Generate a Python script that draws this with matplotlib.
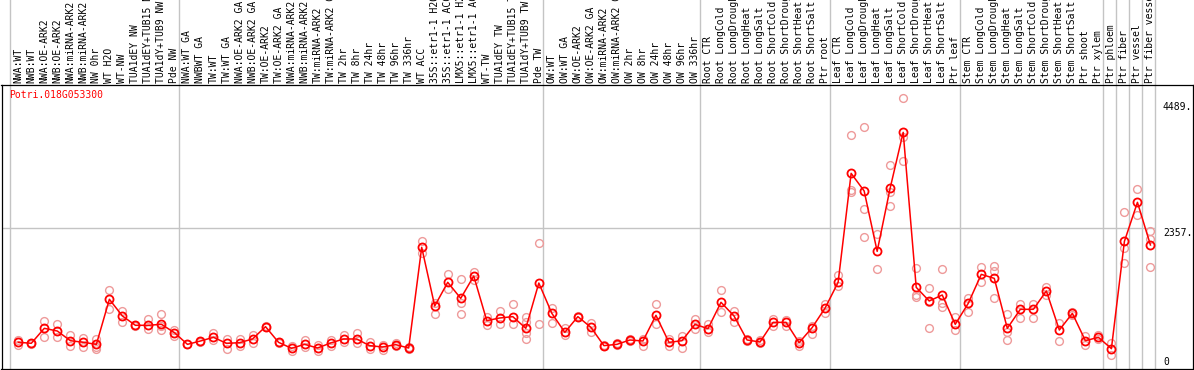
import numpy as np
import matplotlib.pyplot as plt

gene = "Potri.018G053300"

labels = [
    # NW
    "NWA:WT", "NWB:WT", "NWA:OE-ARK2", "NWB:OE-ARK2", "NWA:miRNA-ARK2",
    "NWB:miRNA-ARK2", "NW 0hr", "WT H2O", "WT-NW", "TUA1dEY NW",
    "TUA1dEY+TUB15 NW", "TUA1dY+TUB9 NW", "Pde NW",
    # TW
    "NWA:WT GA", "NWBWT GA", "TW:WT", "TW:WT GA", "NWA:OE-ARK2 GA",
    "NWB:OE-ARK2 GA", "TW:OE-ARK2", "TW:OE-ARK2 GA", "NWA:miRNA-ARK2 GA",
    "NWB:miRNA-ARK2 GA", "TW:miRNA-ARK2", "TW:miRNA-ARK2 GA", "TW 2hr",
    "TW 8hr", "TW 24hr", "TW 48hr", "TW 96hr", "TW 336hr", "WT ACC",
    "35S::etr1-1 H2O", "35S::etr1-1 ACC", "LMX5::etr1-1 H2O",
    "LMX5::etr1-1 ACC", "WT-TW", "TUA1dEY TW", "TUA1dEY+TUB15 TW",
    "TUA1dY+TUB9 TW", "Pde TW",
    # OW
    "OW:WT", "OW:WT GA", "OW:OE-ARK2", "OW:OE-ARK2 GA", "OW:miRNA-ARK2",
    "OW:miRNA-ARK2 GA", "OW 2hr", "OW 8hr", "OW 24hr", "OW 48hr", "OW 96hr",
    "OW 336hr",
    # root
    "Root CTR", "Root LongCold", "Root LongDrought", "Root LongHeat",
    "Root LongSalt", "Root ShortCold", "Root ShortDrought", "Root ShortHeat",
    "Root ShortSalt", "Ptr root",
    # leaf
    "Leaf CTR", "Leaf LongCold", "Leaf LongDrought", "Leaf LongHeat",
    "Leaf LongSalt", "Leaf ShortCold", "Leaf ShortDrought", "Leaf ShortHeat",
    "Leaf ShortSalt", "Ptr leaf",
    # stem
    "Stem CTR", "Stem LongCold", "Stem LongDrought", "Stem LongHeat",
    "Stem LongSalt", "Stem ShortCold", "Stem ShortDrought", "Stem ShortHeat",
    "Stem ShortSalt", "Ptr shoot", "Ptr xylem",
    # xylem tissues
    "Ptr phloem", "Ptr fiber", "Ptr vessel", "Ptr fiber vessel",
]
group_sizes = [13, 28, 12, 10, 10, 11, 1, 1, 1, 1]

means = [
    419, 402, 656, 610, 446, 419, 384, 1148, 865, 707, 707, 724, 582,
    384, 441, 503, 401, 412, 475, 684, 418, 317, 384, 322, 407, 475, 475,
    362, 339, 379, 322, 2029, 1034, 1436, 1164, 1543, 786, 831, 854, 656, 1424,
    910, 588, 854, 673, 362, 384, 458, 441, 876, 418, 446, 724,
    650, 1097, 865, 458, 424, 757, 757, 412, 667, 1000,
    1436, 3284, 2985, 1961, 3035, 3979, 1351, 1119, 1221, 724,
    1080, 1571, 1503, 656, 978, 978, 1289, 627, 910, 446, 503,
    311, 2131, 2792, 2069,
]

reps = [
    [458, 373], [410, 395], [780, 514], [723, 503], [537, 356], [497, 345],
    [475, 311, 340], [1300, 978], [950, 757], [715, 700], [814, 639],
    [899, 627, 700], [627, 525],
    [384, 395], [441, 430], [571, 458], [480, 311], [469, 356], [543, 412],
    [700, 670], [430, 410], [356, 277], [458, 345], [373, 277], [458, 360],
    [543, 430], [582, 401], [418, 311], [373, 288], [401, 356], [345, 300],
    [2137, 1939], [1091, 893], [1577, 1323], [1487, 1080, 899], [1616, 1475],
    [854, 713], [955, 724], [1074, 724], [843, 769, 571, 469], [2097, 724],
    [995, 741], [656, 537], [870, 840], [752, 588], [373, 350], [401, 370],
    [480, 440], [480, 362], [1069, 724], [480, 356], [531, 322], [820, 639],
    [724, 588], [1306, 927], [955, 757], [480, 440], [450, 400],
    [810, 701], [790, 701], [440, 356], [701, 560], [1069, 910],
    [1554, 1380], [3934, 2973, 3000], [4064, 2674, 2199], [2255, 1656],
    [3425, 2968, 2730], [4556, 3895, 3493], [1673, 1193, 1220],
    [1345, 656, 1100], [1656, 1023, 1080], [854, 627],
    [1164, 927], [1690, 1436], [1713, 1634, 1164], [893, 458, 600],
    [1069, 826], [1069, 826], [1362, 1221], [752, 446], [930, 890],
    [531, 373], [540, 470],
    [401, 198], [2623, 2012, 1764], [3013, 2578], [2312, 2165, 1690],
]

axis_marks = [4489, 2357]

mono = "DejaVu Sans Mono"
grid_c = "#c4c4c4"

fig = plt.figure(figsize=(11.94, 3.70), dpi=100)
ax = fig.add_axes([1.5 / 1194, 1 / 370, 1191.5 / 1194, 284 / 370])

x = np.arange(len(means)) + 0.65
bounds = np.concatenate([[0], np.cumsum(group_sizes)])

# group separators, running up through the label band
for b in bounds:
    ax.axvline(b, ymin=0, ymax=1.32, color=grid_c, lw=1, clip_on=False, zorder=0)
ax.hlines(axis_marks[1], -1, bounds[-1], color=grid_c, lw=1, zorder=0)

for xi, r in zip(x, reps):
    ax.plot([xi] * len(r), r, ls="none", marker="o", ms=5.6, mfc="none",
            mec="#ee9a9a", mew=1.0, zorder=2)

ax.plot(x, means, color="red", lw=1.1, marker="o", ms=5.8, mfc="none",
        mec="red", mew=1.3, zorder=3)

ax.set_xlim(-0.64, 90.92)
ax.set_ylim(-34, 4782)
ax.set_xticks([])
ax.set_yticks([])
for s in ax.spines.values():
    s.set_linewidth(0.9)

# sample names along the top
for xi, lab in zip(x, labels):
    ax.text(xi, 1.006, lab, transform=ax.get_xaxis_transform(), rotation=90,
            ha="center", va="bottom", family=mono, fontsize=7, clip_on=False)

ax.text(-0.05, 0.965, gene, transform=ax.get_xaxis_transform(), color="red",
        family=mono, fontsize=7, ha="left", va="center")

xr = bounds[-1] + 0.61
for v in axis_marks:
    ax.text(xr, v, f"{v}.", family=mono, fontsize=7, ha="left", va="top")
ax.text(xr, 0, "0", family=mono, fontsize=7, ha="left", va="bottom")

fig.savefig("out.png", dpi=100)
plt.close()
